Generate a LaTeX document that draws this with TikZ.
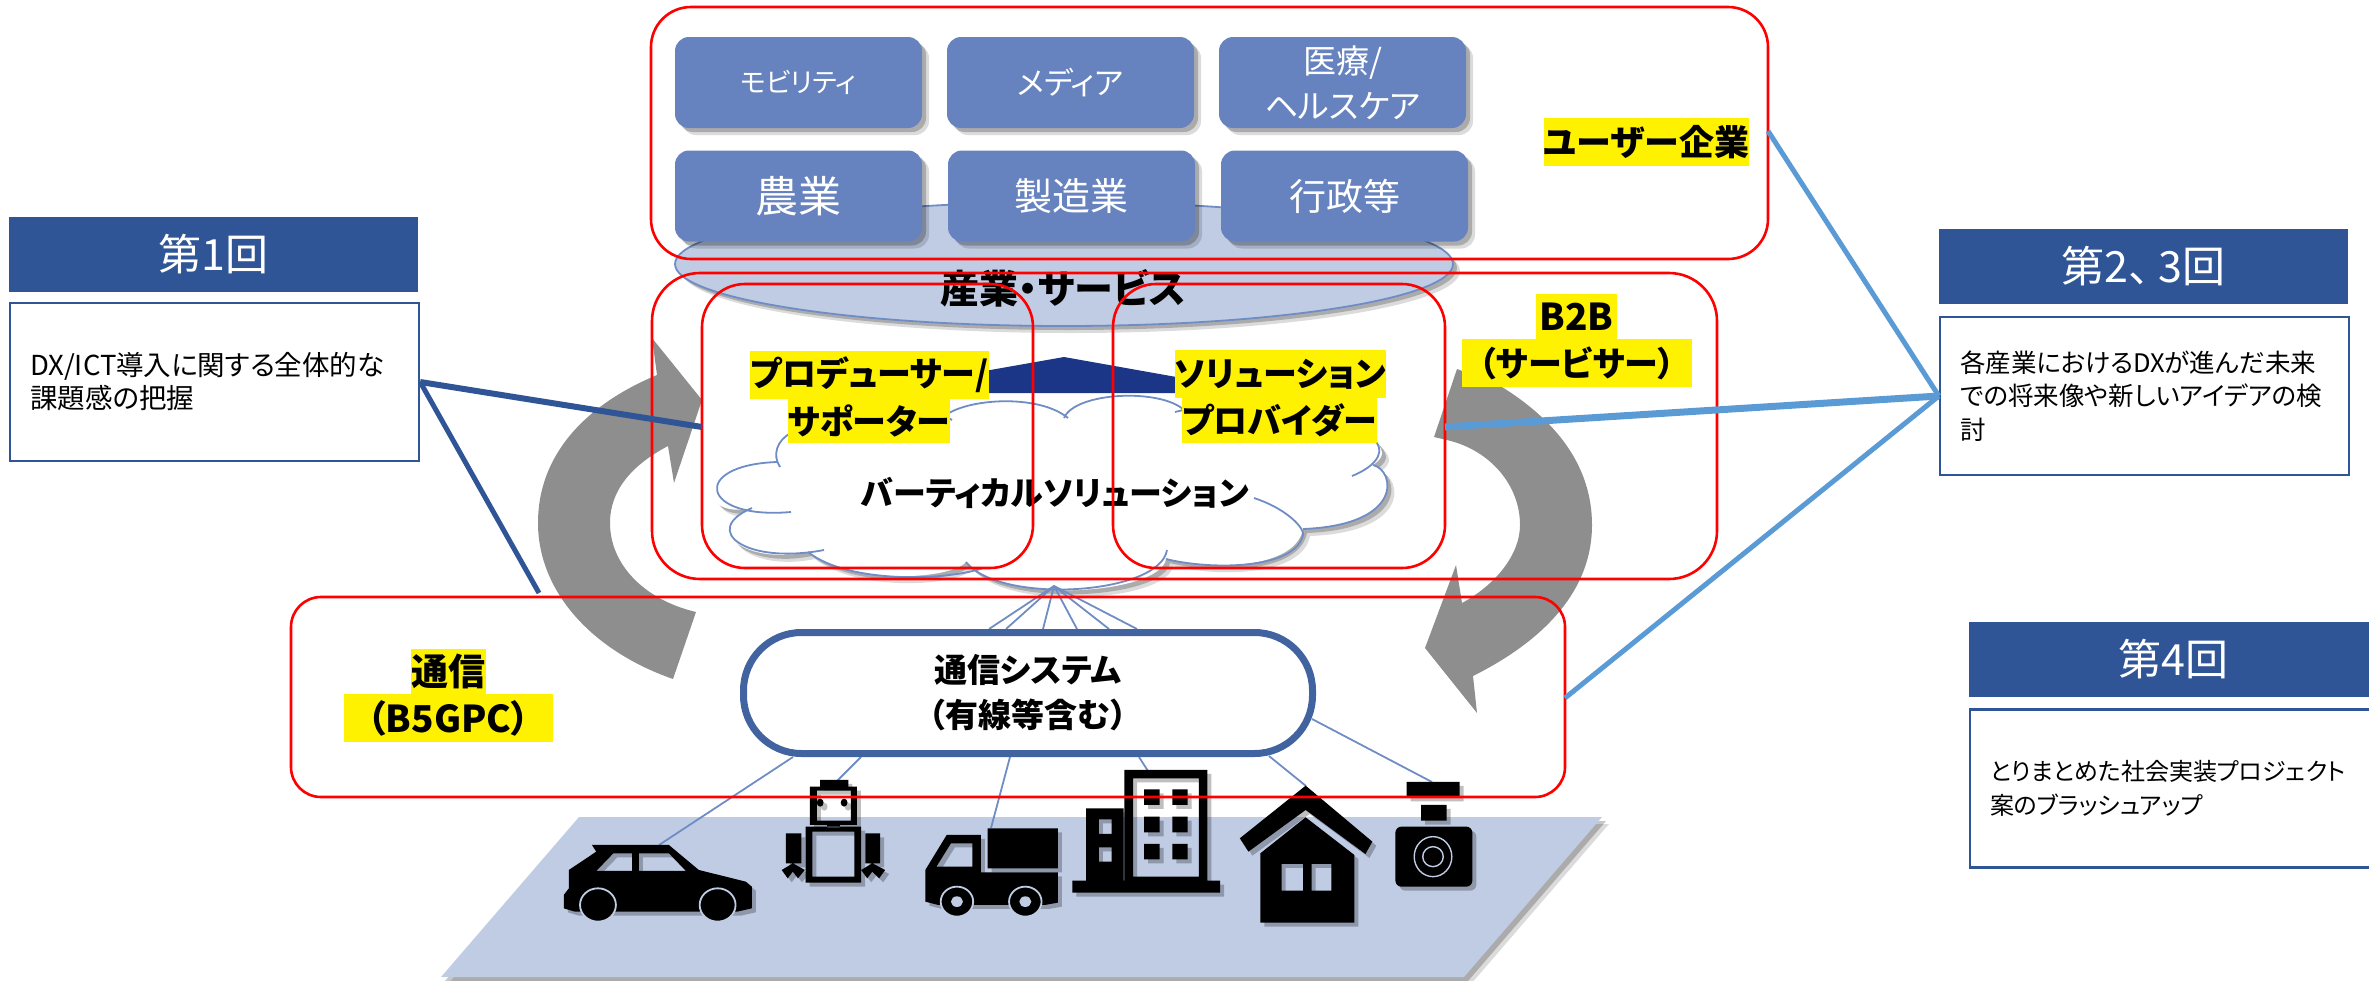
\documentclass[tikz,border=0pt]{standalone}
\usepackage{fontspec}
\setmainfont[RawFeature=+palt]{Noto Sans CJK JP}
\usetikzlibrary{shadows}
\definecolor{headBlue}{HTML}{2F5597}
\definecolor{tileBlue}{HTML}{6783BF}
\definecolor{paleBlue}{HTML}{BFCCE4}
\definecolor{edgeBlue}{HTML}{6F8DC4}
\definecolor{lineBlue}{HTML}{5B9BD5}
\definecolor{roofBlue}{HTML}{1B3687}
\definecolor{pillBlue}{HTML}{4163A0}
\definecolor{arrowGray}{HTML}{8E8E8E}
\tikzset{
  softshadow/.style={drop shadow={shadow xshift=7pt,shadow yshift=-7pt,opacity=.14,fill=black},drop shadow={shadow xshift=4pt,shadow yshift=-4pt,opacity=.22,fill=black}},
  iconshadow/.style={drop shadow={shadow xshift=4pt,shadow yshift=-4pt,opacity=.25,fill=black,even odd rule}},
  redbox/.style={draw=red,line width=2.6pt,inner sep=0pt},
  tile/.style={fill=tileBlue,rounded corners=14pt,minimum width=247pt,minimum height=91pt,inner sep=0pt,text=white,align=center,softshadow},
  marker/.style={fill=yellow,inner sep=0pt,font=\fontsize{34}{36}\selectfont\bfseries},
  headbar/.style={fill=headBlue,text=white,minimum width=409pt,minimum height=75pt,inner sep=0pt,font=\fontsize{43}{46}\selectfont},
  notebox/.style={draw=headBlue,line width=2.4pt,minimum height=158pt,text width=369pt,inner xsep=20pt,inner ysep=0pt,align=left},
  bigtext/.style={font=\fontsize{33}{45}\selectfont\bfseries,align=center,inner sep=0pt},
  thinlink/.style={draw=edgeBlue,line width=1.8pt},
  icon/.style={fill=black,even odd rule,iconshadow}
}
\begin{document}
\begin{tikzpicture}[x=1pt,y=-1pt]
\useasboundingbox (0,0) rectangle (2369,980);

\fill[paleBlue,softshadow] (579,817)--(1602,817)--(1464,977)--(441,977)--cycle;

\coordinate (pillCar) at (793,757);
\coordinate (pillRobot) at (861,757);
\coordinate (pillTruck) at (1010,757);
\coordinate (pillTower) at (1139,757);
\coordinate (pillHouse) at (1269,756);
\coordinate (pillCamera) at (1312,719);
\coordinate (carTop) at (659,845);
\coordinate (robotTop) at (836,782);
\coordinate (truckTop) at (991,828);
\coordinate (towerTop) at (1148,771);
\coordinate (houseTop) at (1306,786);
\coordinate (cameraTop) at (1432,782);
\draw[thinlink] (pillCar)--(carTop);
\draw[thinlink] (pillRobot)--(robotTop);
\draw[thinlink] (pillTruck)--(truckTop);
\draw[thinlink] (pillTower)--(towerTop);
\draw[thinlink] (pillHouse)--(houseTop);
\draw[thinlink] (pillCamera)--(cameraTop);

\begin{scope}[shift={(280,580)},x=0.8547pt,y=-0.3333pt]
\path[icon] (365,795)--(455,795)--(490,870)--(545,905)--(552,920)--(552,985)--(535,995)--(345,995)--(332,985)--(332,945)--(338,925)--(338,870)--(370,815)--cycle
  (370,873)--(412,873)--(412,820)--(390,820)--cycle (420,820)--(455,820)--(475,873)--(420,873)--cycle;
\draw[fill=black,draw=paleBlue,line width=1.8pt] (372,975) ellipse [x radius=21,y radius=50];
\draw[fill=black,draw=paleBlue,line width=1.8pt] (512,975) ellipse [x radius=21,y radius=50];

\path[icon] (632,600) rectangle (665,620) (620,620) rectangle (675,735) (628,632) rectangle (668,722)
  (632,668) ellipse [x radius=4,y radius=12] (660,668) ellipse [x radius=4,y radius=12]
  (640,735) rectangle (655,742) (615,740) rectangle (680,908) (623,755) rectangle (672,890)
  (592,760) rectangle (610,850) (685,760) rectangle (702,850)
  (600,850)--(614,870)--(606,895)--(600,875)--(594,895)--(587,870)--cycle
  (693,850)--(708,870)--(701,895)--(693,875)--(687,895)--(680,870)--cycle;

\path[icon] (828,745) rectangle (910,865)
  (780,765)--(820,765)--(820,877)--(910,877)--(910,968)--(895,975)--(770,975)--(755,965)--(755,870)--cycle
  (785,790)--(810,790)--(810,860)--(768,860)--cycle;
\draw[fill=black,draw=paleBlue,line width=1.8pt] (792,965) ellipse [x radius=19,y radius=45];
\draw[fill=black,draw=paleBlue,line width=1.8pt] (872,965) ellipse [x radius=19,y radius=45];
\fill[paleBlue] (792,965) ellipse [x radius=7,y radius=16];
\fill[paleBlue] (872,965) ellipse [x radius=7,y radius=16];

\path[icon] (988,570) rectangle (1085,902) (998,595) rectangle (1075,890)
  (1011,628) rectangle (1029,675) (1044,628) rectangle (1062,675)
  (1011,710) rectangle (1029,757) (1044,710) rectangle (1062,757)
  (1011,792) rectangle (1029,838) (1044,792) rectangle (1062,838)
  (943,685) rectangle (987,902) (958,718) rectangle (973,762) (958,802) rectangle (973,845)
  (927,902) rectangle (1100,938);

\path[icon] (1200,617)--(1278,785)--(1270,822)--(1200,690)--(1133,815)--(1123,775)--cycle
  (1200,712)--(1257,825)--(1257,1028)--(1147,1028)--(1147,820)--cycle
  (1172,852) rectangle (1197,932) (1207,852) rectangle (1230,932);

\path[icon] (1318,606) rectangle (1380,652) (1335,675) rectangle (1365,722);
\path[icon,rounded corners=6pt] (1305,740) rectangle (1395,920);
\draw[fill=black,draw=paleBlue,line width=1.4pt] (1349,830) ellipse [x radius=22,y radius=60];
\draw[fill=black,draw=paleBlue,line width=1.4pt] (1349,830) ellipse [x radius=12,y radius=30];
\end{scope}

\draw[fill=paleBlue,draw=edgeBlue,line width=1.8pt,softshadow] (1064,264) ellipse [x radius=389,y radius=62];

\node[tile,font=\fontsize{27}{32}\selectfont] (tileMobility) at (798.5,82.5) {モビリティ};
\node[tile,font=\fontsize{31}{36}\selectfont] (tileMedia) at (1070.5,82.5) {メディア};
\node[tile,font=\fontsize{33}{45}\selectfont] (tileHealth) at (1342.5,82.5) {医療/\\ヘルスケア};
\node[tile,font=\fontsize{43}{46}\selectfont] (tileFarm) at (798.5,196) {農業};
\node[tile,font=\fontsize{38}{40}\selectfont] (tileMaking) at (1071.5,196) {製造業};
\node[tile,font=\fontsize{37}{40}\selectfont] (tileGov) at (1344.5,196) {行政等};

\fill[arrowGray] (673,679) .. controls (590,650) and (538,590) .. (538,523) .. controls (538,455) and (585,405) .. (657,375)
  --(652,338)--(702,400)--(674,483)--(668,446) .. controls (632,465) and (610,490) .. (610,523) .. controls (610,565) and (645,600) .. (696,612)--cycle;
\fill[arrowGray] (1457,369)--(1434,437)--(1447,440) .. controls (1490,450) and (1520,485) .. (1520,525) .. controls (1520,555) and (1495,585) .. (1462,603)
  --(1456,565)--(1425,648)--(1477,713)--(1473,676) .. controls (1545,640) and (1592,590) .. (1592,525) .. controls (1592,465) and (1555,420) .. (1502,387)--cycle;

\fill[roofBlue] (1064,357)--(1182,378)--(1182,393)--(945,393)--(945,378)--cycle;

\fill[white,softshadow] (791,433) .. controls (830,405) and (920,400) .. (949,413) .. controls (975,398) and (1040,395) .. (1066,416) .. controls (1075,392) and (1160,388) .. (1180,410) .. controls (1240,395) and (1350,410) .. (1377,443) .. controls (1385,452) and (1383,458) .. (1373,465) .. controls (1395,470) and (1405,525) .. (1303,529) .. controls (1295,570) and (1210,570) .. (1166,559) .. controls (1160,595) and (1000,605) .. (966,562) .. controls (950,580) and (850,585) .. (808,552) .. controls (745,565) and (700,530) .. (752,508) .. controls (700,520) and (690,465) .. (777,462) .. controls (772,455) and (777,440) .. (791,433)--cycle;
\draw[thinlink] (791,433) .. controls (830,405) and (920,400) .. (952,420);
\draw[thinlink] (949,413) .. controls (975,398) and (1040,395) .. (1068,418);
\draw[thinlink] (1064,418) .. controls (1075,392) and (1160,388) .. (1184,410);
\draw[thinlink] (1175,412) .. controls (1240,395) and (1350,410) .. (1377,443);
\draw[thinlink] (1377,443) .. controls (1385,455) and (1372,468) .. (1352,476);
\draw[thinlink] (1373,465) .. controls (1395,470) and (1405,525) .. (1303,529);
\draw[thinlink] (1254,498) .. controls (1290,510) and (1305,530) .. (1303,535) .. controls (1295,570) and (1210,570) .. (1166,559);
\draw[thinlink] (1167,550) .. controls (1160,595) and (1000,605) .. (966,562);
\draw[thinlink] (983,568) .. controls (950,580) and (850,585) .. (808,552);
\draw[thinlink] (824,550) .. controls (745,565) and (700,530) .. (752,508);
\draw[thinlink] (791,512) .. controls (700,520) and (690,465) .. (777,462);
\draw[thinlink] (780,467) .. controls (772,455) and (777,440) .. (791,433);

\coordinate (cloudFoot) at (1054,586);
\coordinate (pillUpA) at (989,629);
\coordinate (pillUpB) at (1006,629);
\coordinate (pillUpC) at (1043,629);
\coordinate (pillUpD) at (1077,629);
\coordinate (pillUpE) at (1109,629);
\coordinate (pillUpF) at (1137,629);
\draw[thinlink] (cloudFoot)--(pillUpA);
\draw[thinlink] (cloudFoot)--(pillUpB);
\draw[thinlink] (cloudFoot)--(pillUpC);
\draw[thinlink] (cloudFoot)--(pillUpD);
\draw[thinlink] (cloudFoot)--(pillUpE);
\draw[thinlink] (cloudFoot)--(pillUpF);

\node[draw=pillBlue,fill=white,line width=7pt,rounded corners=58pt,minimum width=569pt,minimum height=121pt,bigtext] (sysPill) at (1028,693) {通信システム\\（有線等含む）};

\node[bigtext,font=\fontsize{39}{45}\selectfont\bfseries] (labelIndustry) at (1063,288) {産業・サービス};
\node[bigtext] (labelVertical) at (1055,493) {バーティカルソリューション};

\node[marker,minimum width=239pt,minimum height=48pt] (markProducer) at (869.5,375) {プロデューサー/};
\node[marker,minimum width=158pt,minimum height=44pt] (markSupporter) at (869,421) {サポーター};
\node[marker,minimum width=199pt,minimum height=48pt] (markSolution) at (1280.5,374) {ソリューション};
\node[marker,minimum width=189pt,minimum height=45pt] (markProvider) at (1279.5,420.5) {プロバイダー};
\node[marker,minimum width=203pt,minimum height=48pt,font=\fontsize{35}{36}\selectfont\bfseries] (markUser) at (1646.5,142) {ユーザー企業};
\node[marker,minimum width=81pt,minimum height=45pt,font=\fontsize{37}{36}\selectfont\bfseries] (markB2B) at (1576.5,316.5) {B2B};
\node[marker,minimum width=230pt,minimum height=48pt] (markServicer) at (1577,363) {（サービサー）};
\node[marker,minimum width=75pt,minimum height=45pt,font=\fontsize{37}{36}\selectfont\bfseries] (markTsushin) at (448.5,671.5) {通信};
\node[marker,minimum width=209pt,minimum height=48pt,font=\fontsize{37}{36}\selectfont\bfseries] (markB5G) at (448.5,718) {（B5GPC）};

\node[redbox,rounded corners=40pt,minimum width=1117pt,minimum height=252pt] (boxUser) at (1209.5,133) {};
\node[redbox,rounded corners=48pt,minimum width=1065pt,minimum height=306pt] (boxB2B) at (1184.5,426) {};
\node[redbox,rounded corners=43pt,minimum width=331pt,minimum height=284pt] (boxProducer) at (867.5,426) {};
\node[redbox,rounded corners=43pt,minimum width=332pt,minimum height=284pt] (boxSolution) at (1279,426) {};
\node[redbox,rounded corners=30pt,minimum width=1274pt,minimum height=200pt] (boxComm) at (928,697) {};

\node[headbar] (headOne) at (213.5,254.5) {第1回};
\node[notebox,font=\fontsize{27.5}{33}\selectfont] (noteOne) at (214.5,382) {DX/ICT導入に関する全体的な\\課題感の把握};
\node[headbar] (headTwo) at (2143.5,266.5) {第2、\hspace{8pt}3回};
\node[notebox,font=\fontsize{25.5}{33.5}\selectfont] (noteTwo) at (2144.5,396) {各産業におけるDXが進んだ未来\\での将来像や新しいアイデアの検\\討};
\node[headbar] (headFour) at (2173.5,659.5) {第4回};
\node[notebox,font=\fontsize{24}{33.5}\selectfont] (noteFour) at (2174.5,788.5) {とりまとめた社会実装プロジェクト\\案のブラッシュアップ};

\coordinate (producerEdge) at (702,427);
\coordinate (commEdgeL) at (539,593);
\coordinate (userEdge) at (1768,131);
\coordinate (solutionEdge) at (1445,427);
\coordinate (commEdgeR) at (1565,698);
\draw[headBlue,line width=6pt] (noteOne.east)--(producerEdge);
\draw[headBlue,line width=5pt] (noteOne.east)--(commEdgeL);
\draw[lineBlue,line width=5pt] (noteTwo.west)--(userEdge);
\draw[lineBlue,line width=7pt] (noteTwo.west)--(solutionEdge);
\draw[lineBlue,line width=5pt] (noteTwo.west)--(commEdgeR);
\end{tikzpicture}
\end{document}
